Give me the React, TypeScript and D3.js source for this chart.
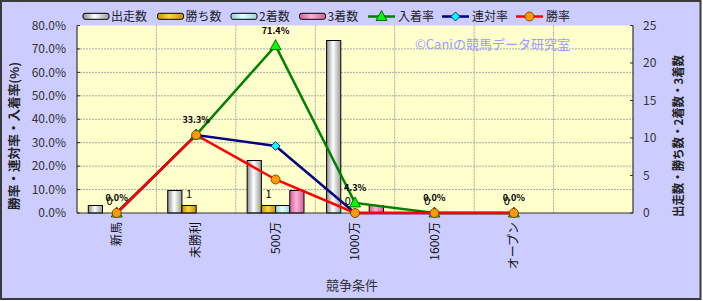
import React from "react";
import * as d3 from "d3";

const categories = ["新馬", "未勝利", "500万", "1000万", "1600万", "オープン", ""];
const starts = [1, 3, 7, 23, 0, 0, null];
const wins = [0, 1, 1, 0, 0, 0, null];
const seconds = [0, 0, 1, 0, 0, 0, null];
const thirds = [0, 0, 3, 1, 0, 0, null];
const placeRate = [0, 33.3, 71.4, 4.3, 0, 0, null];
const rentaiRate = [0, 33.3, 28.6, 0, 0, 0, null];
const winRate = [0, 33.3, 14.3, 0, 0, 0, null];
const leftTicks = [0, 10, 20, 30, 40, 50, 60, 70, 80];
const rightTicks = [0, 5, 10, 15, 20, 25];

const barSeries = [
  { key: "出走数", values: starts, grad: "gGray" },
  { key: "勝ち数", values: wins, grad: "gGold" },
  { key: "2着数", values: seconds, grad: "gCyan" },
  { key: "3着数", values: thirds, grad: "gPink" },
];
const lineSeries = [
  { key: "入着率", values: placeRate, color: "#008000", marker: "tri", fill: "#00ff00", mstroke: "#004000" },
  { key: "連対率", values: rentaiRate, color: "#000080", marker: "dia", fill: "#00ffff", mstroke: "#000060" },
  { key: "勝率", values: winRate, color: "#ff0000", marker: "circ", fill: "#ff9900", mstroke: "#663300" },
];

const FONT = "'Noto Sans CJK JP', 'Noto Sans', sans-serif";
const L = 77, R = 633, T = 25.5, B = 213;

function Marker({ type, x, y, fill, stroke }: any) {
  if (type === "tri") {
    const p = d3.path();
    p.moveTo(x, y - 6);
    p.lineTo(x + 5.5, y + 4);
    p.lineTo(x - 5.5, y + 4);
    p.closePath();
    return <path d={p.toString()} fill={fill} stroke={stroke} strokeWidth={0.8} />;
  }
  if (type === "dia") {
    const p = d3.path();
    p.moveTo(x, y - 4.5);
    p.lineTo(x + 4.5, y);
    p.lineTo(x, y + 4.5);
    p.lineTo(x - 4.5, y);
    p.closePath();
    return <path d={p.toString()} fill={fill} stroke={stroke} strokeWidth={0.8} />;
  }
  return <circle cx={x} cy={y} r={4.5} fill={fill} stroke={stroke} strokeWidth={0.8} />;
}

export default function App() {
  const x = d3.scaleBand<string>().domain(categories.map((c, i) => String(i))).range([L, R]).padding(0);
  const inner = d3.scaleBand<string>().domain(barSeries.map((s) => s.key)).range([0, x.bandwidth()]).paddingInner(0).paddingOuter(0.795);
  const yL = d3.scaleLinear().domain([0, 80]).range([B, T]);
  const yR = d3.scaleLinear().domain([0, 25]).range([B, T]);
  const cx = (i: number) => (x(String(i)) as number) + x.bandwidth() / 2;

  const lineGen = d3
    .line<number | null>()
    .defined((d) => d !== null)
    .x((_, i) => cx(i))
    .y((d) => yL(d as number));

  const legendBars = [
    { key: "出走数", grad: "gGray", x: 83 },
    { key: "勝ち数", grad: "gGold", x: 157.5 },
    { key: "2着数", grad: "gCyan", x: 231 },
    { key: "3着数", grad: "gPink", x: 299.5 },
  ];
  const legendLines = [
    { s: lineSeries[0], x: 368 },
    { s: lineSeries[1], x: 442 },
    { s: lineSeries[2], x: 516 },
  ];

  return (
    <svg width={703} height={301} style={{ position: "absolute", left: 0, top: 0 }} fontFamily={FONT}>
      <defs>
        <linearGradient id="gGray" x1="0" x2="1" y1="0" y2="0">
          <stop offset="0" stopColor="#8c8c8c" />
          <stop offset="0.45" stopColor="#ffffff" />
          <stop offset="1" stopColor="#9a9a9a" />
        </linearGradient>
        <linearGradient id="gGold" x1="0" x2="1" y1="0" y2="0">
          <stop offset="0" stopColor="#c89200" />
          <stop offset="0.45" stopColor="#ffd640" />
          <stop offset="1" stopColor="#c89200" />
        </linearGradient>
        <linearGradient id="gCyan" x1="0" x2="1" y1="0" y2="0">
          <stop offset="0" stopColor="#90d0d0" />
          <stop offset="0.45" stopColor="#e8ffff" />
          <stop offset="1" stopColor="#98d8d8" />
        </linearGradient>
        <linearGradient id="gPink" x1="0" x2="1" y1="0" y2="0">
          <stop offset="0" stopColor="#d0609a" />
          <stop offset="0.45" stopColor="#ffb0d6" />
          <stop offset="1" stopColor="#d0609a" />
        </linearGradient>
      </defs>
      <rect x={1} y={1} width={699.5} height={298} fill="#ccccff" stroke="#3a3a3a" strokeWidth={2} />
      <rect x={L} y={T} width={R - L} height={B - T} fill="#ffffcc" />

      {/* gridlines */}
      {leftTicks.slice(1, -1).map((t) => (
        <line key={"h" + t} x1={L} x2={R} y1={yL(t)} y2={yL(t)} stroke="#a8a8a8" strokeWidth={1} strokeDasharray="2,1" />
      ))}
      {categories.slice(1).map((_, i) => {
        const gx = x(String(i + 1)) as number;
        return <line key={"v" + i} x1={gx} x2={gx} y1={T} y2={B} stroke="#a8a8a8" strokeWidth={1} strokeDasharray="2,1" />;
      })}

      {/* watermark */}
      <text x={415} y={49} fontSize={13} fill="#9a9aff">©Caniの競馬データ研究室</text>

      {/* bars */}
      {barSeries.map((s) =>
        s.values.map((v, i) => {
          if (v === null || v === 0) return null;
          const bx = (x(String(i)) as number) + (inner(s.key) as number);
          return (
            <rect key={s.key + i} x={bx} y={yR(v)} width={inner.bandwidth()} height={B - yR(v)} fill={`url(#${s.grad})`} stroke="#000" strokeWidth={1} />
          );
        })
      )}

      {/* axes */}
      <line x1={L} x2={L} y1={T} y2={B} stroke="#333" strokeWidth={1.2} />
      <line x1={R} x2={R} y1={T} y2={B} stroke="#333" strokeWidth={1.2} />
      <line x1={L} x2={R} y1={B} y2={B} stroke="#333" strokeWidth={1.2} />
      {leftTicks.map((t) => (
        <g key={"lt" + t}>
          <line x1={L} x2={L + 3} y1={yL(t)} y2={yL(t)} stroke="#333" />
          <text x={66} y={yL(t)} dy="0.35em" textAnchor="end" fontSize={12} fill="#333">
            {t.toFixed(1) + "%"}
          </text>
        </g>
      ))}
      {rightTicks.map((t) => (
        <g key={"rt" + t}>
          <line x1={R - 3} x2={R} y1={yR(t)} y2={yR(t)} stroke="#333" />
          <text x={643} y={yR(t)} dy="0.35em" textAnchor="start" fontSize={12} fill="#333">
            {t}
          </text>
        </g>
      ))}
      {categories.map((c, i) => (
        <text key={"xl" + i} transform={`translate(${cx(i)},222) rotate(-90)`} dy="0.35em" textAnchor="end" fontSize={12} fill="#111">
          {c}
        </text>
      ))}
      <text x={352} y={285} dy="0.35em" textAnchor="middle" fontSize={13} fill="#333">競争条件</text>
      <text transform="translate(15,136) rotate(-90)" dy="0.35em" textAnchor="middle" fontSize={12} fontWeight="bold" fill="#222" textLength={148} lengthAdjust="spacingAndGlyphs">
        勝率・連対率・入着率(%)
      </text>
      <text transform="translate(679,136) rotate(-90)" dy="0.35em" textAnchor="middle" fontSize={12} fontWeight="bold" fill="#222" textLength={162} lengthAdjust="spacingAndGlyphs">
        出走数・勝ち数・2着数・3着数
      </text>

      {/* lines */}
      {lineSeries.map((s) => (
        <path key={s.key} d={lineGen(s.values) || ""} fill="none" stroke={s.color} strokeWidth={2.5} />
      ))}
      {lineSeries.map((s) =>
        s.values.map((v, i) =>
          v === null ? null : <Marker key={s.key + i} type={s.marker} x={cx(i)} y={yL(v)} fill={s.fill} stroke={s.mstroke} />
        )
      )}

      {/* data labels */}
      {wins.map((v, i) => {
        if (v === null) return null;
        const bx = (x(String(i)) as number) + (inner("勝ち数") as number) + inner.bandwidth() / 2;
        return (
          <text key={"wl" + i} x={bx} y={yR(v) - 8} textAnchor="middle" fontSize={11} fill="#000">
            {v}
          </text>
        );
      })}
      {placeRate.map((v, i) =>
        v === null ? null : (
          <text key={"pl" + i} x={cx(i)} y={yL(v) - 12} textAnchor="middle" fontSize={9} fontWeight="bold" fill="#000">
            {v.toFixed(1) + "%"}
          </text>
        )
      )}

      {/* legend */}
      {legendBars.map((l) => (
        <g key={l.key}>
          <rect x={l.x} y={13.3} width={26} height={6} rx={2} fill={`url(#${l.grad})`} stroke="#000" strokeWidth={1} />
          <text x={l.x + 28} y={16.5} dy="0.35em" fontSize={12} fill="#222">{l.key}</text>
        </g>
      ))}
      {legendLines.map(({ s, x: lx }) => (
        <g key={"ll" + s.key}>
          <line x1={lx} x2={lx + 27} y1={16.5} y2={16.5} stroke={s.color} strokeWidth={2.5} />
          <Marker type={s.marker} x={lx + 13.5} y={16.5} fill={s.fill} stroke={s.mstroke} />
          <text x={lx + 30} y={16.5} dy="0.35em" fontSize={12} fill="#222">{s.key}</text>
        </g>
      ))}
    </svg>
  );
}
